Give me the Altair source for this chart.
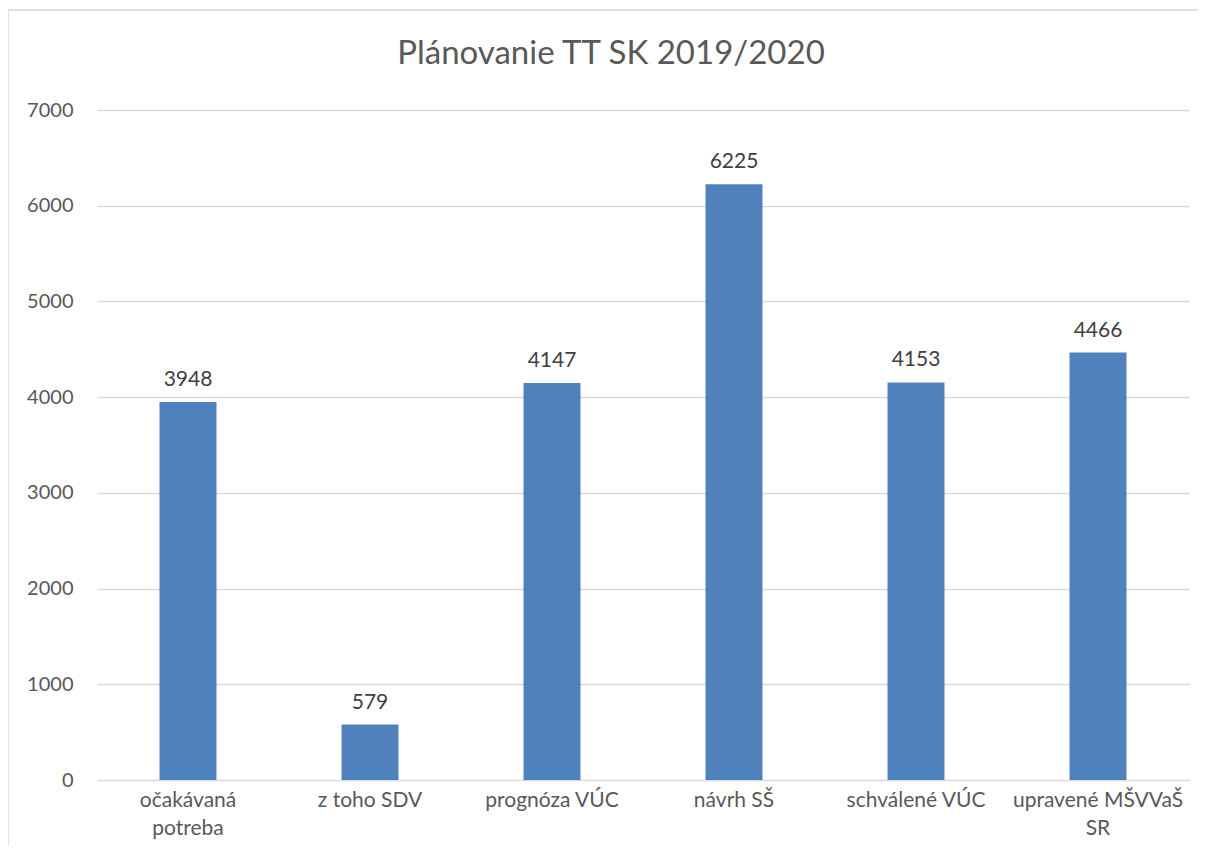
import altair as alt
import pandas as pd

title_text = "Plánovanie TT SK 2019/2020"
categories = ["očakávaná potreba", "z toho SDV", "prognóza VÚC", "návrh SŠ", "schválené VÚC", "upravené MŠVVaŠ SR"]
values = [3948, 579, 4147, 6225, 4153, 4466]
y_ticks = [0, 1000, 2000, 3000, 4000, 5000, 6000, 7000]

df = pd.DataFrame({"cat": categories, "val": values})

FONT = "Lato"
TXT = "#595959"
GRID = "#D9D9D9"
BAR = "#4F81BD"

label_expr = ("datum.value == 'očakávaná potreba' ? ['očakávaná', 'potreba'] : "
              "datum.value == 'upravené MŠVVaŠ SR' ? ['upravené MŠVVaŠ', 'SR'] : datum.value")

x_enc = alt.X("cat:N", sort=categories, title=None,
              scale=alt.Scale(paddingInner=0.687, paddingOuter=0.3435),
              axis=alt.Axis(labelExpr=label_expr, labelAngle=0, domain=False, ticks=False,
                            labelPadding=20, labelFontSize=21, labelFont=FONT, labelColor=TXT,
                            labelLineHeight=28, labelBaseline="middle", grid=False))
y_enc = alt.Y("val:Q", title=None,
              scale=alt.Scale(domain=[0, 7000], nice=False),
              axis=alt.Axis(values=y_ticks, domain=False, ticks=False, labelPadding=24,
                            labelFontSize=20, labelFont=FONT, labelColor=TXT,
                            gridColor=GRID, gridWidth=1.3, format="d"))

base = alt.Chart(df)
bars = base.mark_bar(color=BAR).encode(x=x_enc, y=y_enc)
labels = base.mark_text(dy=-16, baseline="alphabetic", fontSize=21, font=FONT, color="#404040").encode(
    x=alt.X("cat:N", sort=categories), y=alt.Y("val:Q"), text=alt.Text("val:Q", format="d"))

one = alt.Data(values=[{"t": title_text}])
frame = alt.Chart(one).mark_rect(fill=None, stroke=GRID, strokeWidth=1.5).encode(
    x=alt.value(-89), x2=alt.value(1120), y=alt.value(-100), y2=alt.value(800))
title = alt.Chart(one).mark_text(fontSize=33, font=FONT, color=TXT, baseline="alphabetic",
                                 align="center").encode(
    x=alt.value(514), y=alt.value(-46), text="t:N")

chart = alt.layer(frame, title, bars, labels).properties(
    width=1092, height=670,
    background="white",
    autosize=alt.AutoSizeParams(type="none"),
    padding={"left": 89, "top": 102, "right": 9, "bottom": 66},
).configure_view(stroke=None)

chart.save("out.html", embed_options={"renderer": "svg", "actions": False})
